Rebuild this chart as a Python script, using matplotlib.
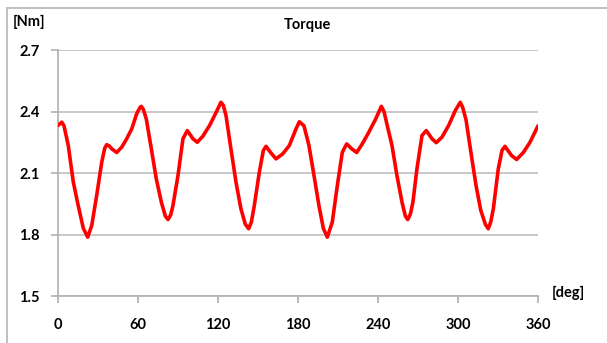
import matplotlib
matplotlib.use("Agg")
import matplotlib.pyplot as plt
from matplotlib.patches import Rectangle

# crank angle [deg] and torque [Nm]
angle = [0, 2.8, 4.5, 7.7, 11.5, 15.2, 19, 22.3, 25.3, 29, 32.8, 35, 36.5, 38.5,
         40.3, 44, 47.8, 51.5, 55.3, 59, 61.5, 62.5, 64, 66.2, 70, 73.7, 77.5,
         80.5, 82.5, 84.5, 86.2, 90, 93.7, 97, 101.2, 104.5, 108.7, 113.7, 118.7,
         122.2, 124, 126, 129.7, 133.5, 137.2, 140.5, 143, 145, 147.2, 151, 154,
         156, 159.7, 163.5, 168.5, 173.5, 178.5, 181, 184.5, 188.2, 192, 195.7,
         199, 202, 205.7, 209.5, 213.2, 216.5, 220.3, 224, 228.2, 233.2, 238.3,
         242.5, 244.5, 247, 250.5, 254.2, 258, 260.5, 262.3, 264.3, 266.2, 269.2,
         273, 276.2, 280.5, 283.7, 288, 293, 298, 301.7, 303.5, 306, 309.7, 313.5,
         317, 320.5, 322.7, 324.5, 326.5, 330.2, 333, 335.2, 340.2, 344, 349, 354,
         360]
torque = [2.332, 2.348, 2.33, 2.234, 2.055, 1.94, 1.83, 1.787, 1.844, 1.99, 2.153,
          2.22, 2.238, 2.232, 2.218, 2.20, 2.226, 2.267, 2.315, 2.389, 2.42, 2.425,
          2.41, 2.364, 2.218, 2.072, 1.958, 1.89, 1.873, 1.895, 1.941, 2.088, 2.267,
          2.307, 2.267, 2.25, 2.28, 2.332, 2.397, 2.445, 2.43, 2.38, 2.218, 2.055,
          1.925, 1.85, 1.828, 1.86, 1.94, 2.104, 2.21, 2.23, 2.198, 2.169, 2.193,
          2.234, 2.315, 2.35, 2.33, 2.234, 2.088, 1.941, 1.83, 1.787, 1.86, 2.039,
          2.2, 2.242, 2.218, 2.2, 2.242, 2.3, 2.364, 2.425, 2.40, 2.33, 2.234,
          2.088, 1.958, 1.89, 1.873, 1.9, 1.958, 2.12, 2.283, 2.307, 2.267, 2.248,
          2.275, 2.332, 2.405, 2.445, 2.42, 2.36, 2.2, 2.04, 1.92, 1.85, 1.828,
          1.86, 1.925, 2.12, 2.21, 2.23, 2.185, 2.166, 2.2, 2.25, 2.33]

xticks = [0, 60, 120, 180, 240, 300, 360]
yticks = [1.5, 1.8, 2.1, 2.4, 2.7]

plt.rcParams['font.family'] = ['Lato', 'DejaVu Sans']

fig = plt.figure(figsize=(6.07, 3.43), dpi=100)
fig.patches.append(Rectangle((6.5 / 607, -0.1), 1.2, 1 - 7.5 / 343 + 0.1,
                             transform=fig.transFigure, fill=False,
                             edgecolor='#b5b5b5', linewidth=1.2))

ax = fig.add_axes([58 / 607, 1 - 296 / 343, 480 / 607, 246 / 343])
ax.plot(angle, torque, color='#ff0000', linewidth=2.6,
        solid_joinstyle='round', solid_capstyle='round', zorder=3)

ax.set_xlim(0, 360)
ax.set_ylim(1.5, 2.7)
ax.set_xticks(xticks)
ax.set_yticks(yticks)
ax.set_yticklabels([f'{v:.1f}' for v in yticks])
ax.grid(axis='y', color='#c4c4c4', linewidth=1.3)
ax.set_axisbelow(True)

for side in ('top', 'right'):
    ax.spines[side].set_visible(False)
for side in ('left', 'bottom'):
    ax.spines[side].set_color('#b0b0b0')
    ax.spines[side].set_linewidth(1.2)

ax.tick_params(axis='both', colors='#b0b0b0', width=1.2, length=5,
               labelcolor='black', labelsize=10.5)
ax.tick_params(axis='x', pad=11)
ax.tick_params(axis='y', pad=8)
for lbl in ax.get_xticklabels() + ax.get_yticklabels():
    lbl.set_fontweight('bold')

fig.text(307 / 607, 1 - 25 / 343, 'Torque', ha='center', va='center',
         fontsize=10.5, fontweight='bold')
fig.text(13 / 607, 1 - 22 / 343, '[Nm]', ha='left', va='center',
         fontsize=10.5, fontweight='bold')
fig.text(552 / 607, 1 - 293 / 343, '[deg]', ha='left', va='center',
         fontsize=10.5, fontweight='bold')

fig.savefig('out.png', dpi=100)
